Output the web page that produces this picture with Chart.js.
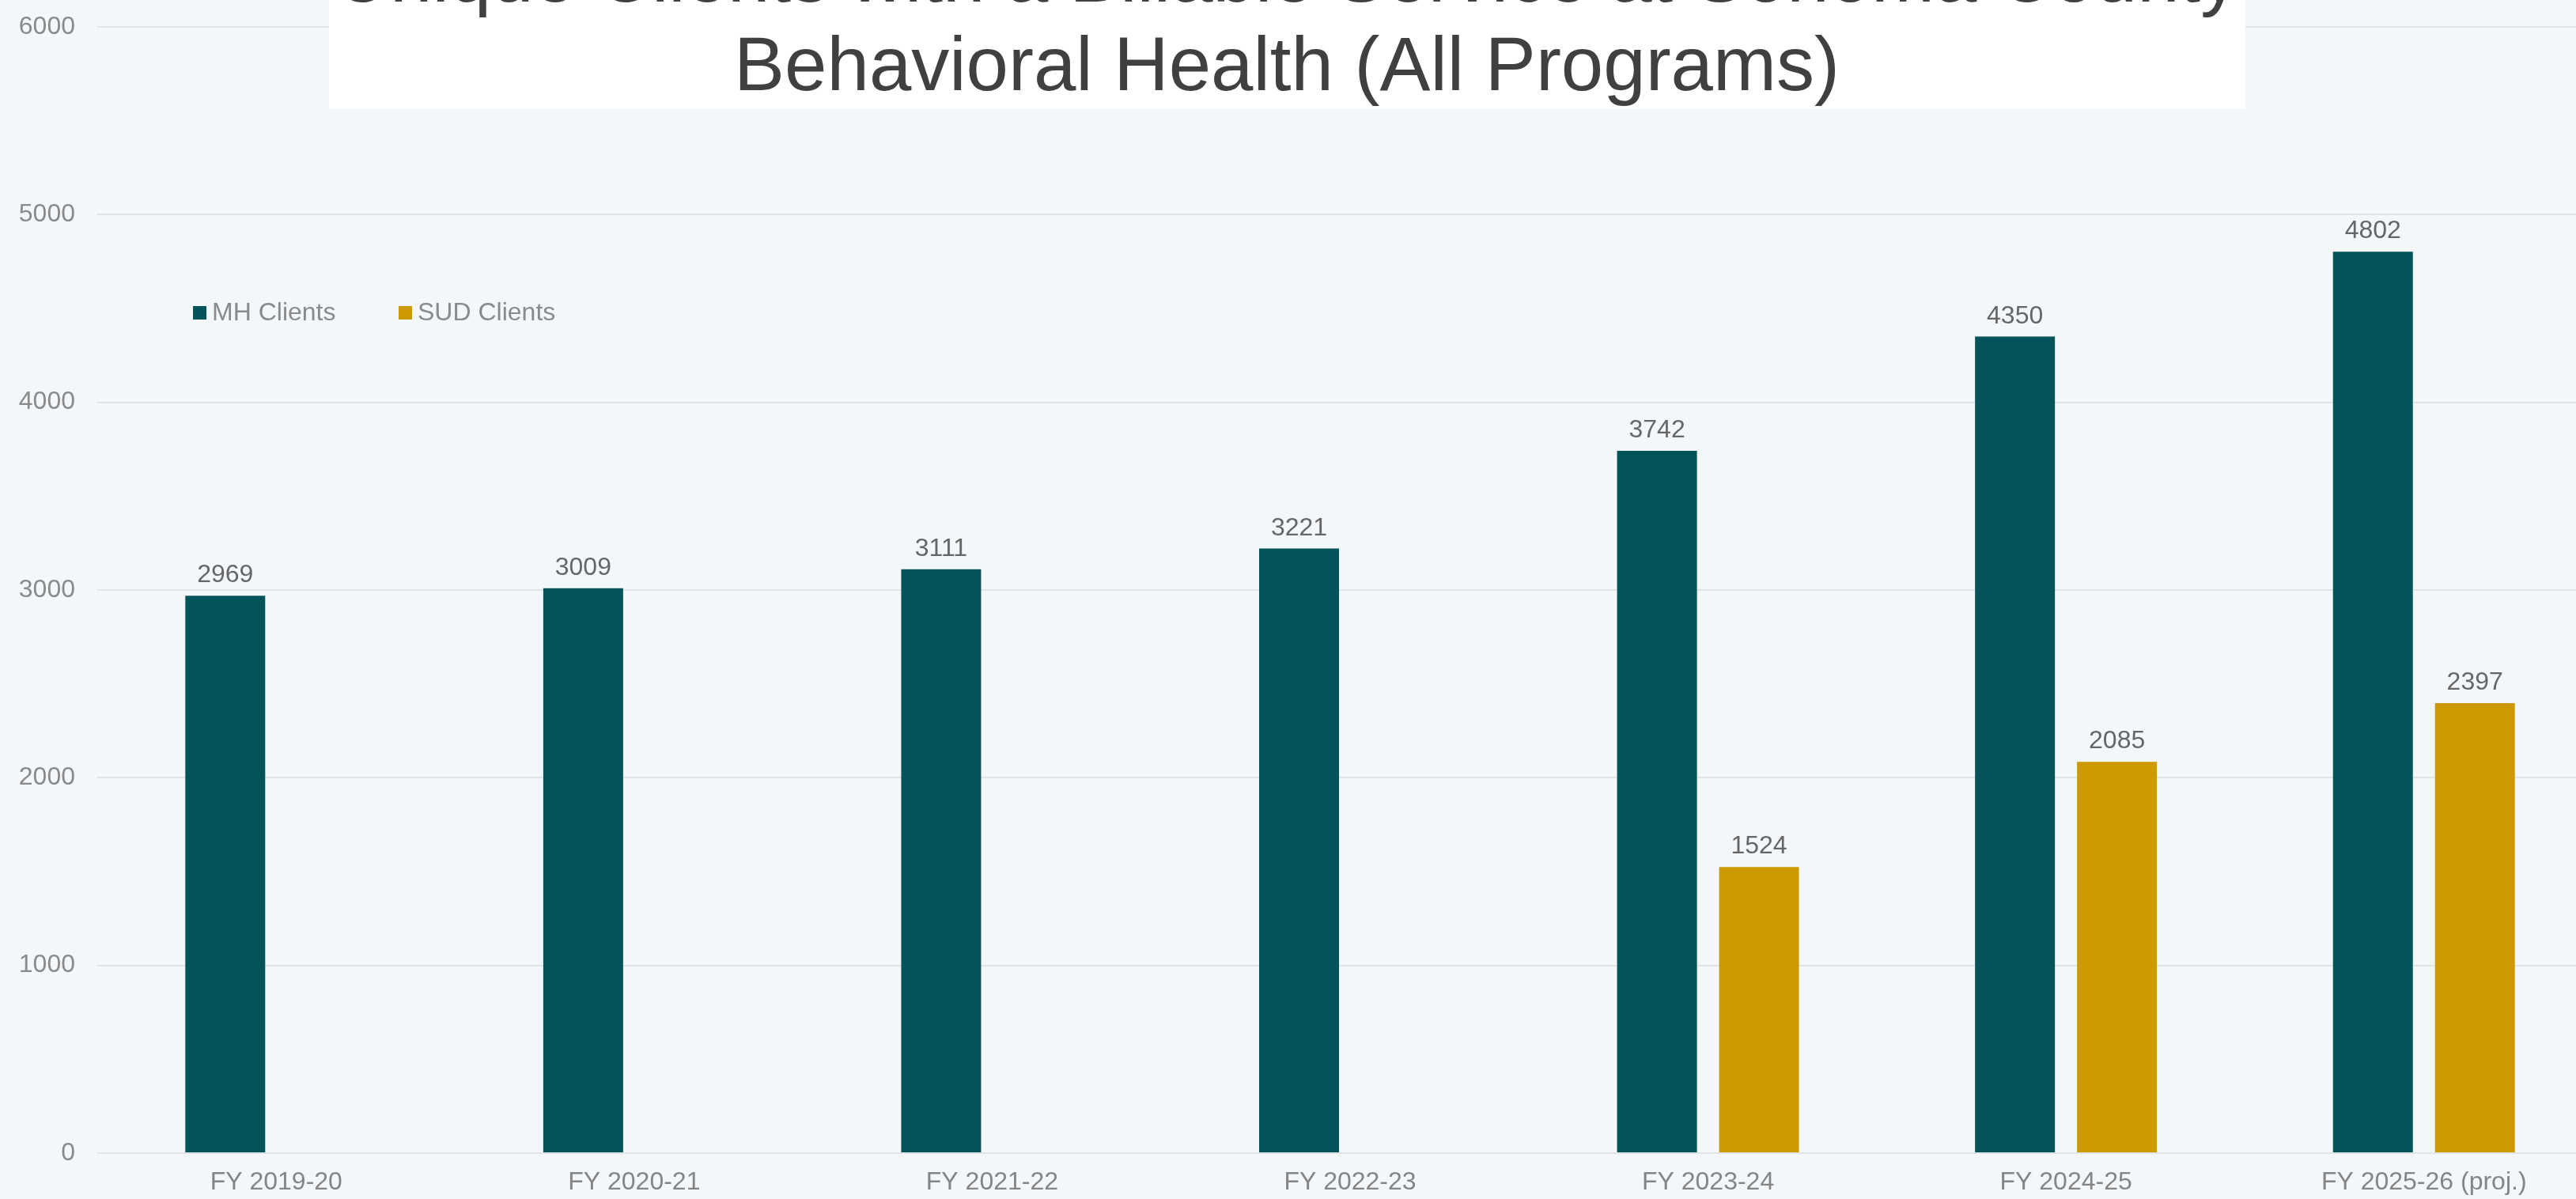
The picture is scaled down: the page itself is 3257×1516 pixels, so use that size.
<!DOCTYPE html>
<html lang="en">
<head>
<meta charset="UTF-8">
<title>Unique Clients with a Billable Service</title>
<style>
  html, body { margin: 0; padding: 0; overflow: hidden; background: #F3F7FA; }
  canvas { display: block; }
</style>
</head>
<body>
<canvas id="canvas" width="3291" height="1516"></canvas>
<script src="https://cdn.jsdelivr.net/npm/chart.js@4.4.1/dist/chart.umd.min.js"></script>
<script>
'use strict';

var categories = ['FY 2019-20', 'FY 2020-21', 'FY 2021-22', 'FY 2022-23', 'FY 2023-24', 'FY 2024-25', 'FY 2025-26 (proj.)'];
var mhClients = [2969, 3009, 3111, 3221, 3742, 4350, 4802];
var sudClients = [null, null, null, null, 1524, 2085, 2397];
var titleLines = ['Unique Clients with a Billable Service at Sonoma County', 'Behavioral Health (All Programs)'];

var FONT = '"Liberation Sans", Arial, sans-serif';

// white title box, partly cut off at the top
var titleBox = {
  id: 'titleBox',
  afterDraw: function(chart) {
    var ctx = chart.ctx;
    ctx.save();
    ctx.fillStyle = '#FFFFFF';
    ctx.fillRect(416, 0, 2423, 138);
    ctx.fillStyle = '#404040';
    ctx.font = '96px ' + FONT;
    ctx.textAlign = 'center';
    ctx.textBaseline = 'alphabetic';
    ctx.fillText(titleLines[0], 1627, 2);
    ctx.fillText(titleLines[1], 1627, 114);
    ctx.restore();
  }
};

// legend drawn inside the plot area
var innerLegend = {
  id: 'innerLegend',
  afterDraw: function(chart) {
    var ctx = chart.ctx;
    var x = 244;
    var y = 395;
    ctx.save();
    ctx.font = '32px ' + FONT;
    ctx.textBaseline = 'middle';
    ctx.textAlign = 'left';
    chart.data.datasets.forEach(function(ds) {
      ctx.fillStyle = ds.backgroundColor;
      ctx.fillRect(x, y - 8, 17, 17);
      ctx.fillStyle = '#8A8A8A';
      ctx.fillText(ds.label, x + 24, y + 1);
      x += 260;
    });
    ctx.restore();
  }
};

// value labels above each bar
var valueLabels = {
  id: 'valueLabels',
  afterDatasetsDraw: function(chart) {
    var ctx = chart.ctx;
    ctx.save();
    ctx.font = '32px ' + FONT;
    ctx.fillStyle = '#666666';
    ctx.textAlign = 'center';
    ctx.textBaseline = 'alphabetic';
    chart.data.datasets.forEach(function(ds, i) {
      var meta = chart.getDatasetMeta(i);
      meta.data.forEach(function(bar, j) {
        var v = ds.data[j];
        if (v === null || v === undefined) return;
        ctx.fillText(String(v), bar.x, bar.y - 17);
      });
    });
    ctx.restore();
  }
};

var config = {
  type: 'bar',
  plugins: [titleBox, innerLegend, valueLabels],
  data: {
    labels: categories,
    datasets: [{
      label: 'MH Clients',
      data: mhClients,
      backgroundColor: '#02545A',
      categoryPercentage: 0.57,
      barPercentage: 0.783
    }, {
      label: 'SUD Clients',
      data: sudClients,
      backgroundColor: '#CC9900',
      categoryPercentage: 0.57,
      barPercentage: 0.783
    }]
  },
  options: {
    responsive: false,
    devicePixelRatio: 1,
    animation: false,
    layout: {
      padding: { top: 34, right: 0, bottom: 0, left: 24 }
    },
    plugins: {
      legend: { display: false },
      title: { display: false },
      tooltip: { enabled: false }
    },
    scales: {
      x: {
        grid: { display: false, drawTicks: false },
        border: { display: false },
        afterFit: function(scale) {
          scale.height = 58;
          scale.paddingLeft = 0;
          scale.paddingRight = 0;
        },
        ticks: {
          color: '#858585',
          font: { family: FONT, size: 32 },
          padding: 18,
          maxRotation: 0,
          autoSkip: false
        }
      },
      y: {
        min: 0,
        max: 6000,
        grid: { color: '#E1E4E6', lineWidth: 2, drawTicks: false },
        border: { display: false },
        afterFit: function(scale) {
          scale.width = 99;
          scale.paddingTop = 0;
          scale.paddingBottom = 0;
        },
        ticks: {
          stepSize: 1000,
          color: '#8A8A8A',
          font: { family: FONT, size: 32 },
          padding: 28,
          callback: function(v) { return String(v); }
        }
      }
    }
  }
};

var ctx = document.getElementById('canvas').getContext('2d');
var chart = new Chart(ctx, config);
</script>
</body>
</html>
